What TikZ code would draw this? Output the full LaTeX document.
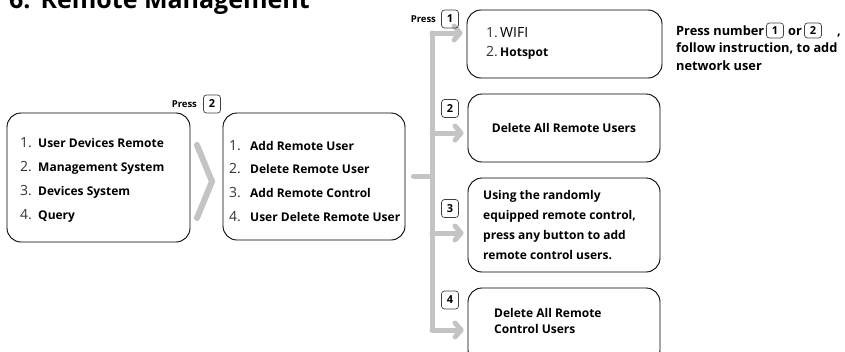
\documentclass[tikz,border=0pt]{standalone}
\usepackage{fontspec}
\setmainfont{Open Sans}
\usetikzlibrary{arrows.meta,positioning}
\definecolor{flowgray}{HTML}{C4C4C4}
\tikzset{
	menubox/.style={draw,rounded corners=14pt,line width=0.9pt,inner sep=0pt,font=\fontsize{12}{13}\selectfont\bfseries},
	keycap/.style={draw=black!75,rounded corners=3pt,line width=0.7pt,inner sep=0pt,minimum width=17pt,minimum height=18pt,font=\fontsize{11}{11}\selectfont\bfseries},
	flow/.style={draw=flowgray,line width=5pt,line cap=round,line join=round},
	flowarrow/.style={flow,-{Straight Barb[round,length=6pt,width=14pt]}},
	itemnum/.style={anchor=base west,inner sep=0pt,font=\fontsize{14}{14}\selectfont,text=black!80},
	itemtext/.style={anchor=base west,inner sep=0pt,font=\fontsize{12}{14}\selectfont\bfseries},
	notetext/.style={inner sep=0pt,font=\fontsize{12.8}{17}\selectfont\bfseries},
	presstext/.style={inner sep=0pt,font=\fontsize{9.5}{10}\selectfont\bfseries},
}
\begin{document}
\begin{tikzpicture}[x=1pt,y=-1pt]
		\useasboundingbox (0,0) rectangle (845,351);
		\clip (0,0) rectangle (845,351);
		% heading, cut by the page edge
		\node[anchor=base west,inner sep=0pt,font=\fontsize{25}{28}\selectfont\bfseries] (title) at (9,8.5) {6.\hspace{10pt}Remote Management};
		% main menu and sub menu
		\node[menubox,minimum width=183pt,minimum height=129pt] (mainmenu) at (98.5,177.5) {};
		\node[menubox,minimum width=182pt,minimum height=127pt] (submenu) at (314,176.5) {};
		\foreach \t [count=\i] in {User Devices Remote,Management System,Devices System,Query}{
			\node[itemnum] (mnum\i) at (20,{147+24.3*(\i-1)}) {\i.};
			\node[itemtext] (mtxt\i) at (38,{147+24.3*(\i-1)}) {\t};
		}
		\foreach \t [count=\i] in {Add Remote User,Delete Remote User,Add Remote Control,User Delete Remote User}{
			\node[itemnum] (snum\i) at (229,{150+23.7*(\i-1)}) {\i.};
			\node[itemtext] (stxt\i) at (250,{150+23.7*(\i-1)}) {\t};
		}
		\node[keycap] (keytwo) at (212,104) {2};
		\node[presstext,left=6pt of keytwo] (presstwo) {Press};
		\draw[flow,line width=6pt] (197,145) -- (212,181.5) -- (197,218);
		% options
		\node[menubox,minimum width=195pt,minimum height=68pt] (network) at (564.5,44) {};
		\node[menubox,minimum width=192pt,minimum height=68pt] (delusers) at (564,128) {Delete All Remote Users};
		\node[menubox,minimum width=192pt,minimum height=94pt] (addctrl) at (564,225) {};
		\node[menubox,minimum width=192pt,minimum height=76pt] (delctrl) at (564,326) {};
		\node[itemnum] (wnum1) at (486,37) {1.};
		\node[itemnum,text=black] (wtxt1) at (500,37) {WIFI};
		\node[itemnum] (wnum2) at (486,56) {2.};
		\node[itemtext] (wtxt2) at (500,56) {Hotspot};
		\node[notetext,align=left,anchor=west,font=\fontsize{12}{20.3}\selectfont\bfseries] (ctrltext) at (483,225) {Using the randomly\\equipped remote control,\\press any button to add\\remote control users.};
		\node[notetext,align=left,anchor=west,font=\fontsize{12}{16}\selectfont\bfseries] (delctrltext) at (494,321) {Delete All Remote\\Control Users};
		% branches
		\coordinate (hub) at (432,176);
		\coordinate (b1) at (432,33);
		\coordinate (b2) at (432,133);
		\coordinate (b3) at (432,233);
		\coordinate (b4) at (432,330);
		\draw[flow,shorten <=8pt] (submenu.east |- hub) -- (hub);
		\draw[flow] (b1) -- (b4);
		\foreach \b/\n in {b1/network,b2/delusers,b3/addctrl,b4/delctrl}
			\draw[flowarrow,shorten >=4pt] (\b) -- (\b -| \n.west);
		\node[keycap] (keya) at (450,19) {1};
		\node[presstext,left=5pt of keya] (pressone) {Press};
		\node[keycap] (keyb) at (450,108.5) {2};
		\node[keycap] (keyc) at (450,208.5) {3};
		\node[keycap] (keyd) at (450,300) {4};
		% side note
		\node[notetext,anchor=base west] (note1) at (676,35) {Press number};
		\node[keycap,minimum height=15pt] (notekey1) at (775,30.5) {1};
		\node[notetext,anchor=base west] (noteor) at (788,35) {or};
		\node[keycap,minimum height=15pt] (notekey2) at (813,30.5) {2};
		\node[notetext,anchor=base west] (notecomma) at (837,35) {,};
		\node[notetext,anchor=base west] (note2) at (676,52.5) {follow instruction, to add};
		\node[notetext,anchor=base west] (note3) at (676,70) {network user};
\end{tikzpicture}
\end{document}
